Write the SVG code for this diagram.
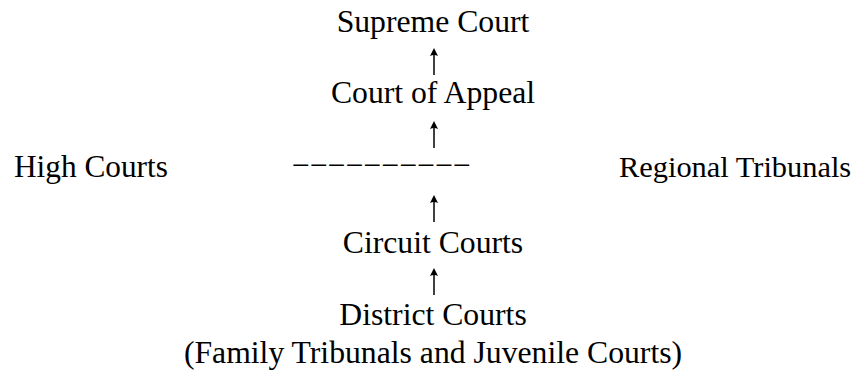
<svg xmlns="http://www.w3.org/2000/svg" width="857" height="371" viewBox="0 0 857 371">
<defs>
<path id="arrow" d="M0,27 V4" stroke="#000" stroke-width="1.5" fill="none"/>
<path id="head" d="M0,0 L-4,8 Q0,6 4,8 Z" fill="#000"/>
</defs>
<style>
text{font-family:"Liberation Serif","Times New Roman",serif;font-size:31.7px;fill:#000}
.c{text-anchor:middle}
</style>
<rect width="857" height="371" fill="#fff"/>
<g id="supreme-court"><text class="c" x="433" y="32">Supreme Court</text></g>
<g id="court-of-appeal"><text class="c" x="433" y="103">Court of Appeal</text></g>
<g id="high-courts"><text x="14" y="177" style="font-size:31.3px">High Courts</text></g>
<g id="divider"><text x="292" y="176" textLength="179" lengthAdjust="spacingAndGlyphs">−−−−−−−−−−</text></g>
<g id="regional-tribunals"><text x="619" y="177" style="font-size:30.4px">Regional Tribunals</text></g>
<g id="circuit-courts"><text class="c" x="433" y="253">Circuit Courts</text></g>
<g id="district-courts"><text class="c" x="433" y="325">District Courts</text></g>
<g id="family-juvenile"><text class="c" x="433" y="363">(Family Tribunals and Juvenile Courts)</text></g>
<g id="connectors">
<g transform="translate(434,48)"><use href="#arrow"/><use href="#head"/></g>
<g transform="translate(434,121)"><use href="#arrow"/><use href="#head"/></g>
<g transform="translate(434,195)"><use href="#arrow"/><use href="#head"/></g>
<g transform="translate(434,268)"><use href="#arrow"/><use href="#head"/></g>
</g>
</svg>
